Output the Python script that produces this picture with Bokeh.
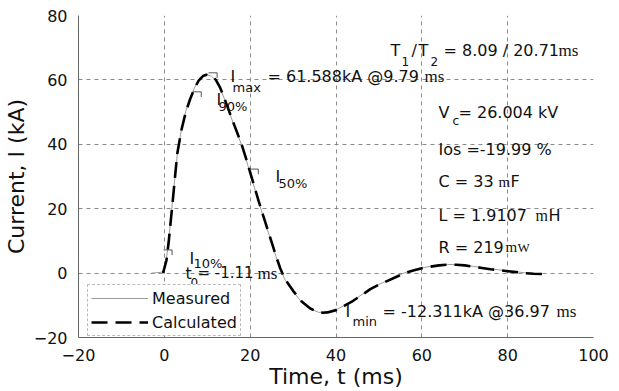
from bokeh.plotting import figure
from bokeh.models import Label, Range1d, Legend, LegendItem
from bokeh.embed import file_html
from bokeh.resources import INLINE

# ---------------- data ----------------
x_ticks = [-20, 0, 20, 40, 60, 80, 100]
y_ticks = [-20, 0, 20, 40, 60, 80]

calc_t = [-0.3, 0.5, 1, 2, 3, 4, 5, 6, 7, 8, 9, 9.79, 11, 12, 13, 14, 15, 16, 17, 18,
          19, 20, 21, 22, 23, 24, 25, 26, 27, 28, 30, 32, 34, 36, 36.97, 38, 40, 42, 44, 46,
          48, 50, 52, 54, 56, 58, 60, 62, 64, 66, 68, 70, 72, 74, 76, 78, 80, 82, 84, 86, 88]
calc_i = [0, 4, 9.5, 23, 37, 44.5, 50, 54, 57.3, 59.8, 61.2, 61.59, 61.2, 60, 57.6, 54.3, 50.6, 47, 43.5, 40,
          35.8, 31.3, 26.8, 22.3, 18, 13.8, 9.6, 5.4, 1.5, -1.6, -5.5, -8.8, -11.0, -12.2, -12.31, -12.2, -11.5, -10.1, -8.6, -6.8,
          -5.0, -3.6, -2.4, -1.2, 0.0, 0.8, 1.5, 2.0, 2.4, 2.6, 2.6, 2.4, 2.0, 1.6, 1.2, 0.9, 0.6, 0.3, 0.0, -0.2, -0.3]

meas_t = [-3, -1, -0.3, 0.5, 1, 2, 3, 4, 5, 6, 7, 8, 9, 10, 11, 12, 13, 14, 15, 16,
          17, 18, 19, 20, 22, 24, 26, 28, 30, 32, 34, 36, 38, 40, 42, 44, 46, 48, 50, 52,
          54, 56, 58, 60, 62, 64, 66, 68, 70, 72, 74, 76, 78, 80, 82, 84, 86, 88]
meas_i = [0, 0.2, 0.5, 4.5, 10, 23.5, 36.5, 44.8, 50.3, 54.2, 57.5, 60, 61.3, 61.6, 61.1, 59.8, 57.4, 54.1, 50.4, 46.8,
          43.3, 39.8, 35.6, 31.0, 22.0, 13.6, 5.2, -1.8, -5.7, -9.0, -11.1, -12.2, -12.1, -11.4, -10.0, -8.5, -6.7, -4.9, -3.5, -2.3,
          -1.1, 0.1, 0.9, 1.6, 2.1, 2.5, 2.7, 2.6, 2.4, 2.1, 1.7, 1.3, 1.0, 0.7, 0.4, 0.1, -0.1, -0.2]

# characteristic points (10%, 90%, max, 50%) marked with small brackets
mark_t = [-0.2, 6.6, 10.3, 19.9]
mark_i = [7.2, 56.3, 62.2, 32.3]

# ---------------- figure ----------------
W, H = 619, 391
L_, R_, T_, B_ = 78, 26, 15, 51
X0, X1, Y0, Y1 = -20, 100, -20, 80

p = figure(width=W, height=H, output_backend="svg", toolbar_location=None,
           x_range=Range1d(X0, X1), y_range=Range1d(Y0, Y1),
           min_border_left=L_, min_border_right=R_, min_border_top=T_, min_border_bottom=B_)
p.background_fill_color = "white"
p.border_fill_color = "white"
p.outline_line_color = None

fw = W - L_ - R_
fh = H - T_ - B_


def tx(px):
    return X0 + (px - L_) / fw * (X1 - X0)


def iy(py):
    return Y1 - (py - T_) / fh * (Y1 - Y0)


# grid
for g in (p.xgrid, p.ygrid):
    g.grid_line_color = "#8a8a8a"
    g.grid_line_dash = "4 4"
    g.grid_line_width = 1
p.xgrid.ticker = x_ticks
p.ygrid.ticker = y_ticks

# axes
p.xaxis.ticker = x_ticks
p.yaxis.ticker = y_ticks
for ax in (p.xaxis, p.yaxis):
    ax.axis_line_color = "#666666"
    ax.major_tick_line_color = None
    ax.minor_tick_line_color = None
    ax.major_label_text_font = "DejaVu Sans"
    ax.major_label_text_font_size = "16px"
    ax.major_label_text_color = "#111111"
    ax.axis_label_text_font = "DejaVu Sans"
    ax.axis_label_text_font_size = "22px"
    ax.axis_label_text_font_style = "normal"
    ax.axis_label_text_color = "#111111"
p.xaxis.major_label_standoff = 5
p.yaxis.major_label_standoff = 5
p.yaxis.axis_label = "Current, I (kA)"
p.yaxis.axis_label_standoff = 2
p.xaxis.axis_label = "Time, t (ms)"
p.xaxis.axis_label_standoff = 0

# curves
r_meas = p.line(meas_t, meas_i, line_color="#9a9a9a", line_width=1)
r_calc = p.line(calc_t, calc_i, line_color="black", line_width=2.6, line_dash="16 8")

# bracket markers
p.segment(x0=mark_t, y0=mark_i, x1=[t + 2 for t in mark_t], y1=mark_i,
          line_color="#555555", line_width=1)
p.segment(x0=[t + 2 for t in mark_t], y0=mark_i, x1=[t + 2 for t in mark_t],
          y1=[v - 1.6 for v in mark_i], line_color="#555555", line_width=1)

legend = Legend(items=[LegendItem(label="Measured", renderers=[r_meas]),
                       LegendItem(label="Calculated", renderers=[r_calc])],
                location=(9, 1), orientation="vertical")
legend.label_text_font = "DejaVu Sans"
legend.label_text_font_size = "16px"
legend.label_text_color = "#111111"
legend.glyph_width = 57
legend.glyph_height = 20
legend.label_height = 20
legend.label_standoff = 4
legend.spacing = 4
legend.padding = 3
legend.margin = 0
legend.border_line_color = "#777777"
legend.border_line_dash = "3 2"
legend.background_fill_color = "white"
legend.background_fill_alpha = 1
p.add_layout(legend)


def lab(txt, px_x, px_y, size=16, font="DejaVu Sans", align="left"):
    p.add_layout(Label(x=tx(px_x), y=iy(px_y), text=txt, text_font=font,
                       text_font_size=f"{size}px", text_baseline="alphabetic",
                       text_align=align, text_color="#111111"))


SER = "Liberation Serif"
# T1 / T2
lab("T", 390, 50)
lab("1", 401, 61, 12)
lab("/", 411, 50)
lab("T", 418, 50)
lab("2", 430, 61, 12)
lab("= 8.09 / 20.71", 443, 50)
lab("ms", 558, 50, 17, SER)
# Imax
lab("I", 230, 77)
lab("max", 232, 88, 13)
lab("= 61.588kA @9.79", 267, 77)
lab("ms", 424, 77, 17, SER)
lab("I", 216, 100)
lab("90%", 218, 107, 13)
# parameters
lab("V", 438, 113)
lab("c", 452, 121, 12)
lab("= 26.004 kV", 458, 113)
lab("Ios =-19.99 %", 438, 150)
lab("C = 33", 438, 183)
lab("m", 498, 183, 15, SER)
lab("F", 510, 183)
lab("L = 1.9107", 438, 217)
lab("m", 535, 217, 16, SER)
lab("H", 548, 217)
lab("R = 219", 438, 249)
lab("m", 505, 249, 15, SER)
lab("W", 517, 249, 13, SER)
# Imin
lab("I", 345, 314)
lab("min", 352, 324, 13)
lab("= -12.311kA @36.97", 382, 314)
lab("ms", 556, 314, 17, SER)
# I10% and t0
lab("I", 189, 260)
lab("10%", 193, 265, 13)
lab("t", 185, 275)
lab("0", 190, 284, 12)
lab("= -1.11", 197, 275, 15)
lab("ms", 257, 275, 17, SER)
# I50%
lab("I", 275, 177)
lab("50%", 278, 185, 13)

open("out.html", "w").write(file_html(p, INLINE))
